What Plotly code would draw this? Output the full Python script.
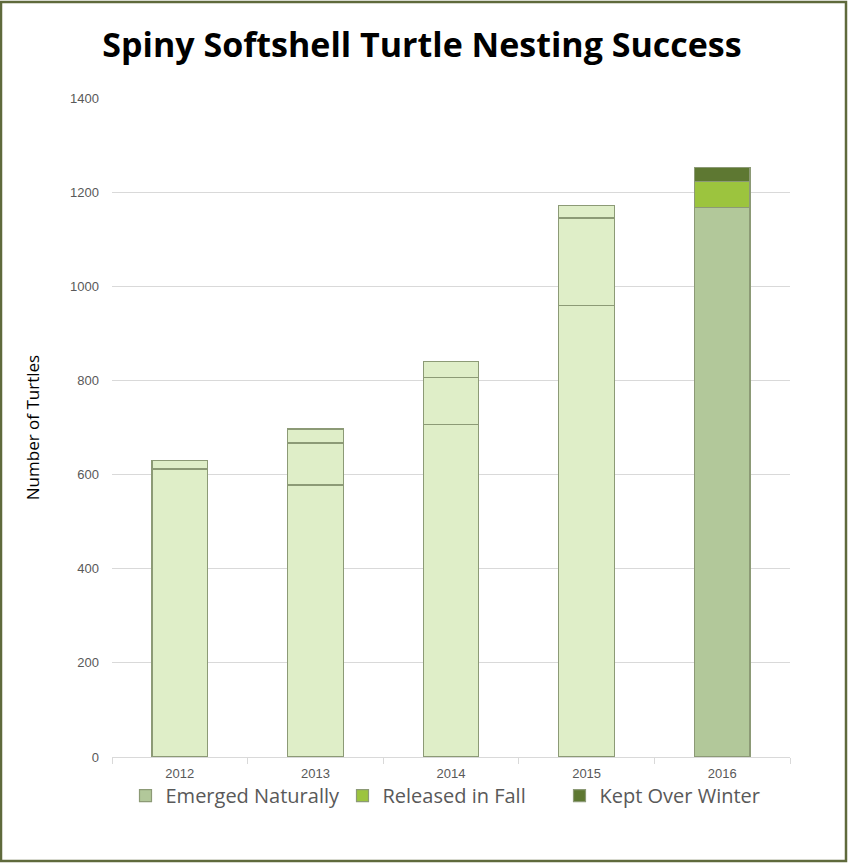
import plotly.graph_objects as go

years = ["2012", "2013", "2014", "2015", "2016"]
emerged = [612, 578, 707, 960, 1168]
released = [18, 89, 100, 185, 54]
kept = [0, 30, 33, 27, 31]

series_names = ["Emerged Naturally", "Released in Fall", "Kept Over Winter"]
pale = "#dfeec8"
colors_2016 = ["#b2c89a", "#9cc43e", "#5e7832"]
edge = "#8c9a76"

W, H = 848, 863
ml, mr, mt, mb = 112, 58, 98, 106

fig = go.Figure()
for name, vals, c16 in zip(series_names, [emerged, released, kept], colors_2016):
    fig.add_trace(go.Bar(
        x=years[:4], y=vals[:4], name=name, showlegend=False,
        marker=dict(color=pale, line=dict(color=edge, width=1.2)),
    ))
    fig.add_trace(go.Bar(
        x=years[4:], y=vals[4:], name=name, showlegend=True,
        marker=dict(color=c16, line=dict(color=edge, width=1.2)),
    ))

pw = W - ml - mr
ph = H - mt - mb
fig.add_shape(type="rect", xref="paper", yref="paper",
              x0=-(ml - 1) / pw, x1=1 + (mr - 2) / pw,
              y0=-(mb - 2) / ph, y1=1 + (mt - 2) / ph,
              line=dict(color="#5f6a3c", width=2.5), fillcolor="rgba(0,0,0,0)",
              layer="above")

fig.update_layout(
    width=W, height=H,
    margin=dict(l=ml, r=mr, t=mt, b=mb),
    paper_bgcolor="white", plot_bgcolor="white",
    barmode="stack", bargap=0.59,
    title=dict(text="<b>Spiny Softshell Turtle Nesting Success</b>",
               x=0.4976, xref="container", xanchor="center", y=0.948, yanchor="middle",
               font=dict(family="Open Sans, Liberation Sans, sans-serif", size=34, color="black")),
    font=dict(family="Liberation Sans Narrow, Liberation Sans, Arial, sans-serif", color="#595959"),
    xaxis=dict(type="category", showgrid=False, showline=True, linecolor="#d9d9d9", linewidth=1,
               ticks="outside", tickson="boundaries", ticklen=6, tickcolor="#d9d9d9",
               ticklabelstandoff=4,
               tickfont=dict(size=13, color="#595959")),
    yaxis=dict(range=[0, 1400], dtick=200, showgrid=True, gridcolor="#d9d9d9", gridwidth=1,
               zeroline=False, showline=False, ticks="", ticklabelstandoff=12,
               tickfont=dict(size=13, color="#595959"),
               title=dict(text="Number of Turtles", standoff=26,
                          font=dict(family="Open Sans, Liberation Sans, sans-serif", size=17, color="black"))),
    legend=dict(orientation="h", x=0.5, xanchor="center", y=-0.029, yanchor="top",
                bgcolor="rgba(0,0,0,0)",
                font=dict(family="Open Sans, Liberation Sans, sans-serif", size=20, color="#595959"),
                traceorder="normal", itemwidth=30, entrywidthmode="pixels", entrywidth=172),
)

fig.write_html("out.html", config={"displayModeBar": False},
               post_script="document.body.style.margin='0';document.body.style.overflow='hidden';")
